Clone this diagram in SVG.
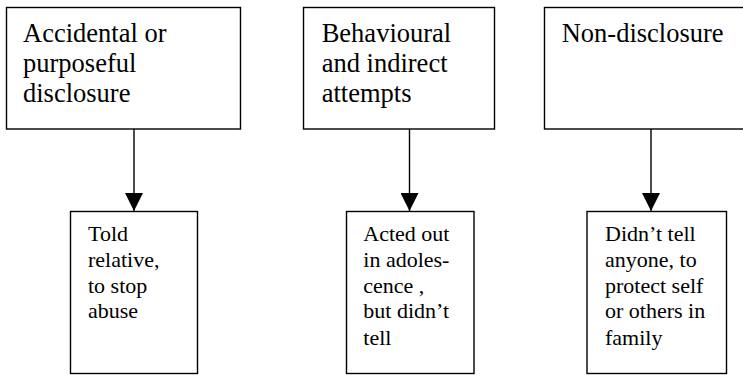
<svg xmlns="http://www.w3.org/2000/svg" width="743" height="375" viewBox="0 0 743 375">
<style>
.box{fill:#fff;stroke:#000;stroke-width:1.4}
.t{font-family:"Liberation Serif","Times New Roman",serif;fill:#000}
.big{font-size:26.5px}
.sm{font-size:22px}
.con{stroke:#000;stroke-width:1.4;fill:none}
</style>
<defs>
<marker id="ah" markerUnits="userSpaceOnUse" markerWidth="18" markerHeight="18" refX="17" refY="8.5" orient="auto" viewBox="0 0 17 17">
<path d="M0,0 L17,8.5 L0,17 Z" fill="#000"/>
</marker>
</defs>
<rect width="743" height="375" fill="#fff"/>
<g id="n1">
<rect class="box" x="6.5" y="7.5" width="234" height="121.5"/>
<text class="t big" x="23" y="42">Accidental or</text>
<text class="t big" x="23" y="72">purposeful</text>
<text class="t big" x="23" y="102">disclosure</text>
</g>
<g id="n2">
<rect class="box" x="303.5" y="7.5" width="191" height="121.5"/>
<text class="t big" x="321.7" y="42">Behavioural</text>
<text class="t big" x="321.7" y="72">and indirect</text>
<text class="t big" x="321.7" y="102">attempts</text>
</g>
<g id="n3">
<rect class="box" x="544.5" y="7.5" width="210" height="121.5"/>
<text class="t big" x="561.7" y="42">Non-disclosure</text>
</g>
<g id="n4">
<rect class="box" x="70.5" y="211.5" width="127" height="162"/>
<text class="t sm" x="88" y="241">Told</text>
<text class="t sm" x="88" y="267">relative,</text>
<text class="t sm" x="88" y="293">to stop</text>
<text class="t sm" x="88" y="318">abuse</text>
</g>
<g id="n5">
<rect class="box" x="346.5" y="211.5" width="127.5" height="162"/>
<text class="t sm" x="363.3" y="241">Acted out</text>
<text class="t sm" x="363.3" y="267">in adoles-</text>
<text class="t sm" x="363.3" y="293">cence ,</text>
<text class="t sm" x="363.3" y="318">but didn’t</text>
<text class="t sm" x="363.3" y="345">tell</text>
</g>
<g id="n6">
<rect class="box" x="587" y="211.5" width="139.5" height="162"/>
<text class="t sm" x="605" y="241">Didn’t tell</text>
<text class="t sm" x="605" y="267">anyone, to</text>
<text class="t sm" x="605" y="293">protect self</text>
<text class="t sm" x="605" y="318">or others in</text>
<text class="t sm" x="605" y="345">family</text>
</g>
<g id="connectors">
<line class="con" x1="134" y1="129" x2="134" y2="211" marker-end="url(#ah)"/>
<line class="con" x1="409.5" y1="129" x2="409.5" y2="211" marker-end="url(#ah)"/>
<line class="con" x1="651" y1="129" x2="651" y2="211" marker-end="url(#ah)"/>
</g>
</svg>
